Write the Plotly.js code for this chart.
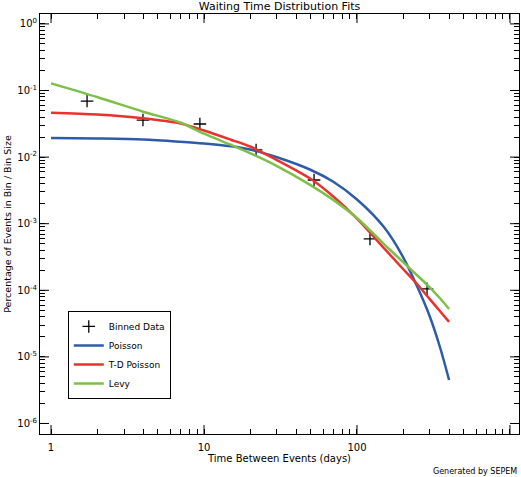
<!DOCTYPE html>
<html>
<head>
<meta charset="utf-8">
<script src="https://cdn.plot.ly/plotly-3.0.1.min.js"></script>
<style>html,body{margin:0;padding:0;background:#fff;}#chart{width:521px;height:477px;}</style>
</head>
<body>
<div id="chart"></div>
<script>
// Binned data (crosses)
const binX = [1.72, 3.99, 9.4, 21.9, 52.4, 121.6, 287];
const binY = [0.0695, 0.036, 0.0314, 0.0128, 0.00453, 0.00059, 0.000105];

// Fit curves, values
const fitX = [1, 2, 4, 7, 10, 15, 20, 30, 50, 70, 100, 150, 200, 250, 300, 350, 400];
const poissonY = [0.01936, 0.0190, 0.01837, 0.0170, 0.0160, 0.01452, 0.0130, 0.00993, 0.0064, 0.00426, 0.00231, 0.00089, 0.000316, 0.000108, 0.0000397, 0.0000136, 0.0000045];
const tdPoissonY = [0.0464, 0.0436, 0.0383, 0.0320, 0.0251, 0.01825, 0.01442, 0.00904, 0.00469, 0.00256, 0.00119, 0.000431, 0.000209, 0.00012, 0.000073, 0.0000481, 0.0000335];
const levyY = [0.128, 0.0798, 0.0481, 0.0331, 0.02244, 0.01527, 0.01146, 0.00733, 0.00377, 0.00228, 0.00122, 0.000495, 0.000266, 0.000164, 0.00011, 0.0000753, 0.0000524];

// Tick labels
const xTickVals = [1, 10, 100, 1000];
const xTickText = ["1", "10", "100", "1000"];
const yTickVals = [1e-6, 1e-5, 1e-4, 1e-3, 1e-2, 1e-1, 1];
const yTickText = ["10<sup>-6</sup>", "10<sup>-5</sup>", "10<sup>-4</sup>", "10<sup>-3</sup>", "10<sup>-2</sup>", "10<sup>-1</sup>", "10<sup>0</sup>"];

const seriesNames = ["Binned Data", "Poisson", "T-D Poisson", "Levy"];
const seriesColors = ["#000000", "#2f5ca8", "#e8322e", "#7cc04a"];

// all tick positions (major + minor 2..9), labels only on majors
function allTicks(majors, labels) {
  const vals = [], text = [];
  majors.forEach((v, i) => {
    vals.push(v); text.push(labels[i]);
    if (i < majors.length - 1) for (let k = 2; k <= 9; k++) { vals.push(v * k); text.push(""); }
  });
  return {vals, text};
}
const xT = allTicks(xTickVals, xTickText);
const yT = allTicks(yTickVals, yTickText);

const font = "DejaVu Sans, Arial, sans-serif";
const xRange = [-0.072, 3.059];
const yRange = [-6.158, 0.149];

const traces = [
  {x: binX, y: binY, type: "scatter", mode: "markers", name: seriesNames[0],
   marker: {symbol: "cross-thin", size: 9, color: seriesColors[0], line: {color: seriesColors[0], width: 1.3}}},
  {x: fitX, y: poissonY, type: "scatter", mode: "lines", name: seriesNames[1],
   line: {color: seriesColors[1], width: 2.5, shape: "spline", smoothing: 0.8}},
  {x: fitX, y: tdPoissonY, type: "scatter", mode: "lines", name: seriesNames[2],
   line: {color: seriesColors[2], width: 2.5, shape: "spline", smoothing: 0.8}},
  {x: fitX, y: levyY, type: "scatter", mode: "lines", name: seriesNames[3],
   line: {color: seriesColors[3], width: 2.5, shape: "spline", smoothing: 0.8}}
];

// long major ticks on all four sides
const tickShapes = [];
const tl = {color: "#000", width: 1};
xTickVals.forEach(v => {
  tickShapes.push({type: "line", xref: "x", yref: "paper", ysizemode: "pixel", yanchor: 0, x0: v, x1: v, y0: 0, y1: 9, line: tl});
  tickShapes.push({type: "line", xref: "x", yref: "paper", ysizemode: "pixel", yanchor: 1, x0: v, x1: v, y0: 0, y1: -9, line: tl});
});
yTickVals.forEach(v => {
  tickShapes.push({type: "line", yref: "y", xref: "paper", xsizemode: "pixel", xanchor: 0, y0: v, y1: v, x0: 0, x1: 9, line: tl});
  tickShapes.push({type: "line", yref: "y", xref: "paper", xsizemode: "pixel", xanchor: 1, y0: v, y1: v, x0: 0, x1: -9, line: tl});
});

const layout = {
  width: 521, height: 477,
  margin: {l: 40, r: 2, t: 14, b: 43},
  paper_bgcolor: "#fff", plot_bgcolor: "#fff",
  font: {family: font, size: 10, color: "#000"},
  title: {text: "Waiting Time Distribution Fits", font: {family: font, size: 11, color: "#000"},
          x: 0.5, xref: "paper", y: 0.988, yref: "container", yanchor: "middle"},
  xaxis: {
    type: "log", range: xRange,
    tickmode: "array", tickvals: xT.vals, ticktext: xT.text,
    ticks: "inside", ticklen: 5, tickwidth: 1, tickcolor: "#000", ticklabelstandoff: 4,
    showline: true, linecolor: "#000", linewidth: 1, mirror: "ticks",
    showgrid: false, zeroline: false, automargin: true,
    tickfont: {family: font, size: 10, color: "#000"},
    title: {text: "Time Between Events (days)", font: {family: font, size: 10, color: "#000"}, standoff: 0}
  },
  yaxis: {
    type: "log", range: yRange,
    tickmode: "array", tickvals: yT.vals, ticktext: yT.text,
    ticks: "inside", ticklen: 5, tickwidth: 1, tickcolor: "#000",
    showline: true, linecolor: "#000", linewidth: 1, mirror: "ticks",
    showgrid: false, zeroline: false,
    tickfont: {family: font, size: 10, color: "#000"},
    title: {text: "Percentage of Events in Bin / Bin Size", font: {family: font, size: 9.5, color: "#000"}}
  },
  shapes: tickShapes,
  showlegend: true,
  legend: {
    x: 0.058, y: 0.293, xanchor: "left", yanchor: "top",
    bgcolor: "#fff", bordercolor: "#000", borderwidth: 1,
    font: {family: font, size: 9, color: "#000"},
    tracegroupgap: 0, itemwidth: 30, traceorder: "normal"
  },
  annotations: [
    {text: "Generated by SEPEM", xref: "paper", yref: "paper", x: 1, y: 0, xanchor: "right", yanchor: "middle",
     yshift: -37, showarrow: false, font: {family: font, size: 8, color: "#000"}}
  ]
};

Plotly.newPlot("chart", traces, layout, {displayModeBar: false, staticPlot: true});
</script>
</body>
</html>
